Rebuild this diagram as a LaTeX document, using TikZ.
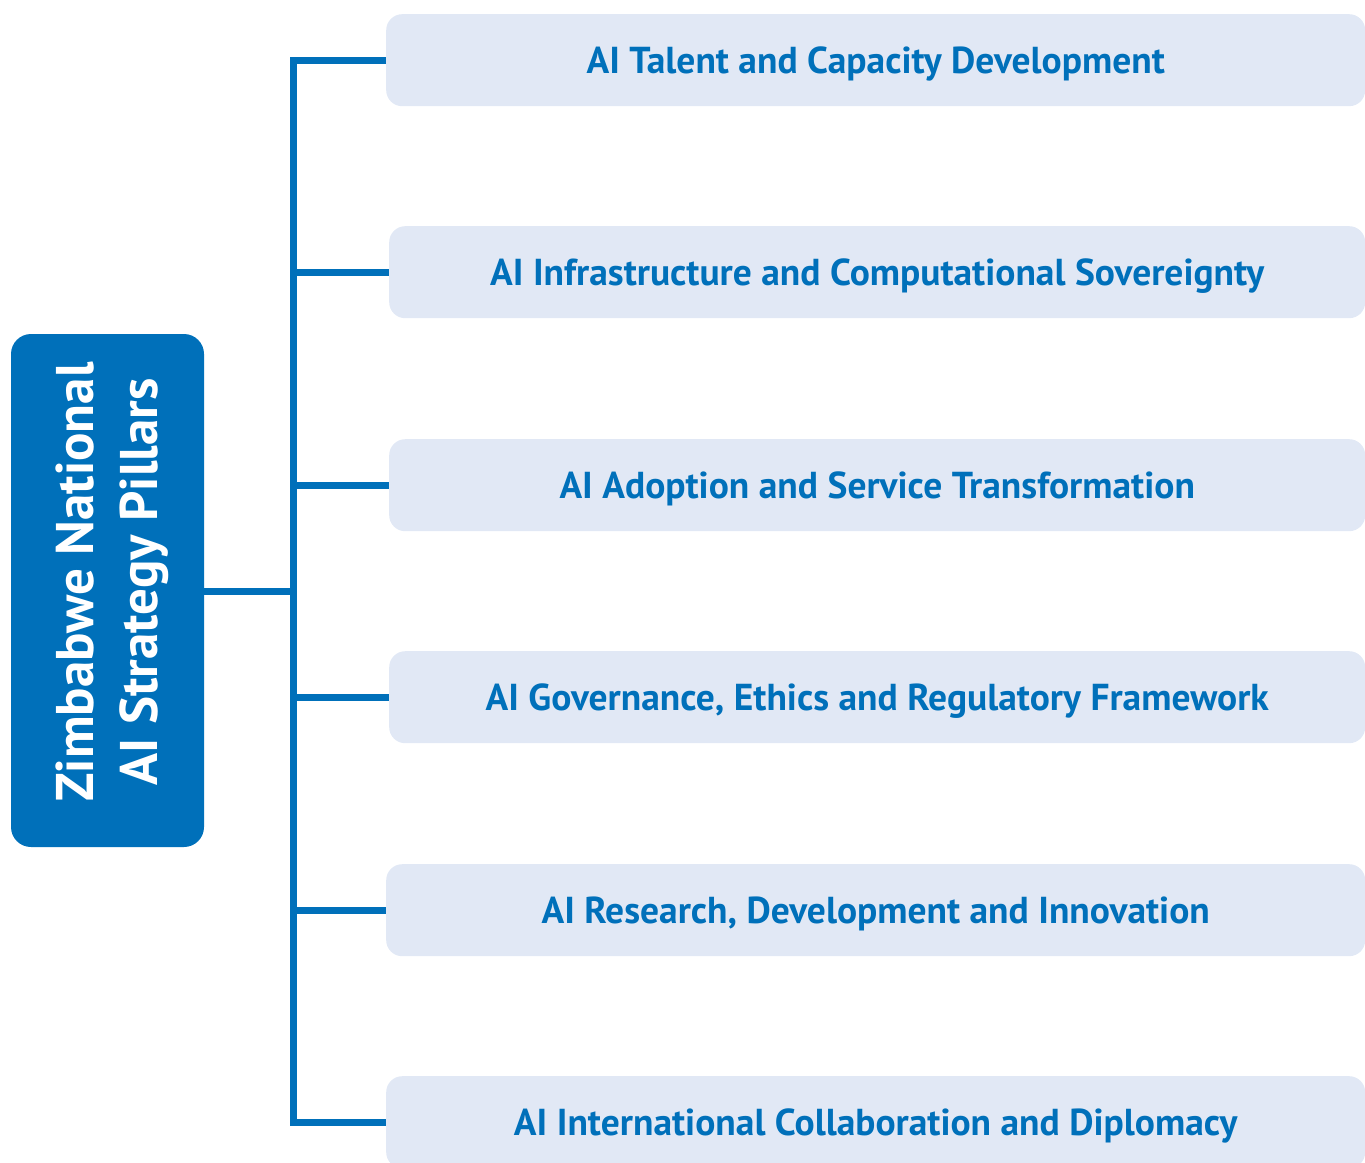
\documentclass[tikz,border=0pt]{standalone}
\usepackage{fontspec}
\setmainfont{PT Sans}
\definecolor{zblue}{RGB}{0,112,186}
\definecolor{zfill}{RGB}{225,232,245}
\begin{document}
\begin{tikzpicture}[x=1pt,y=-1pt,
  pillar/.style={draw=none,fill=zfill,rounded corners=16pt,minimum height=92pt,inner sep=0pt,
    text height=26pt,text depth=0pt,
    text=zblue,font=\fontsize{37.5}{42}\selectfont\bfseries,anchor=north west},
  rootbox/.style={fill=zblue,rounded corners=20pt,inner sep=0pt},
  link/.style={draw=zblue,line width=7pt}]
\useasboundingbox (0,0) rectangle (1365,1162);
\node[rootbox,minimum width=193pt,minimum height=513pt] (root) at (107.5,590.5) {};
\node[text=white,rotate=90,align=center,font=\fontsize{53}{64}\selectfont\bfseries] (roottext) at (112,582) {Zimbabwe National\\AI Strategy Pillars};
\node[pillar,minimum width=979pt] (p1) at (386,14) {AI Talent and Capacity Development};
\node[pillar,minimum width=976pt] (p2) at (389,226) {AI Infrastructure and Computational Sovereignty};
\node[pillar,minimum width=976pt] (p3) at (389,439) {AI Adoption and Service Transformation};
\node[pillar,minimum width=976pt] (p4) at (389,651) {AI Governance, Ethics and Regulatory Framework};
\node[pillar,minimum width=979pt] (p5) at (386,864) {AI Research, Development and Innovation};
\node[pillar,minimum width=979pt] (p6) at (386,1076) {AI International Collaboration and Diplomacy};
\coordinate (spine) at (293,591);
\draw[link] (root.east |- spine) -- (spine);
\draw[link] (p1.west) -| (spine) |- (p6.west);
\foreach \i in {2,3,4,5} \draw[link] (spine |- p\i.west) -- (p\i.west);
\end{tikzpicture}
\end{document}
